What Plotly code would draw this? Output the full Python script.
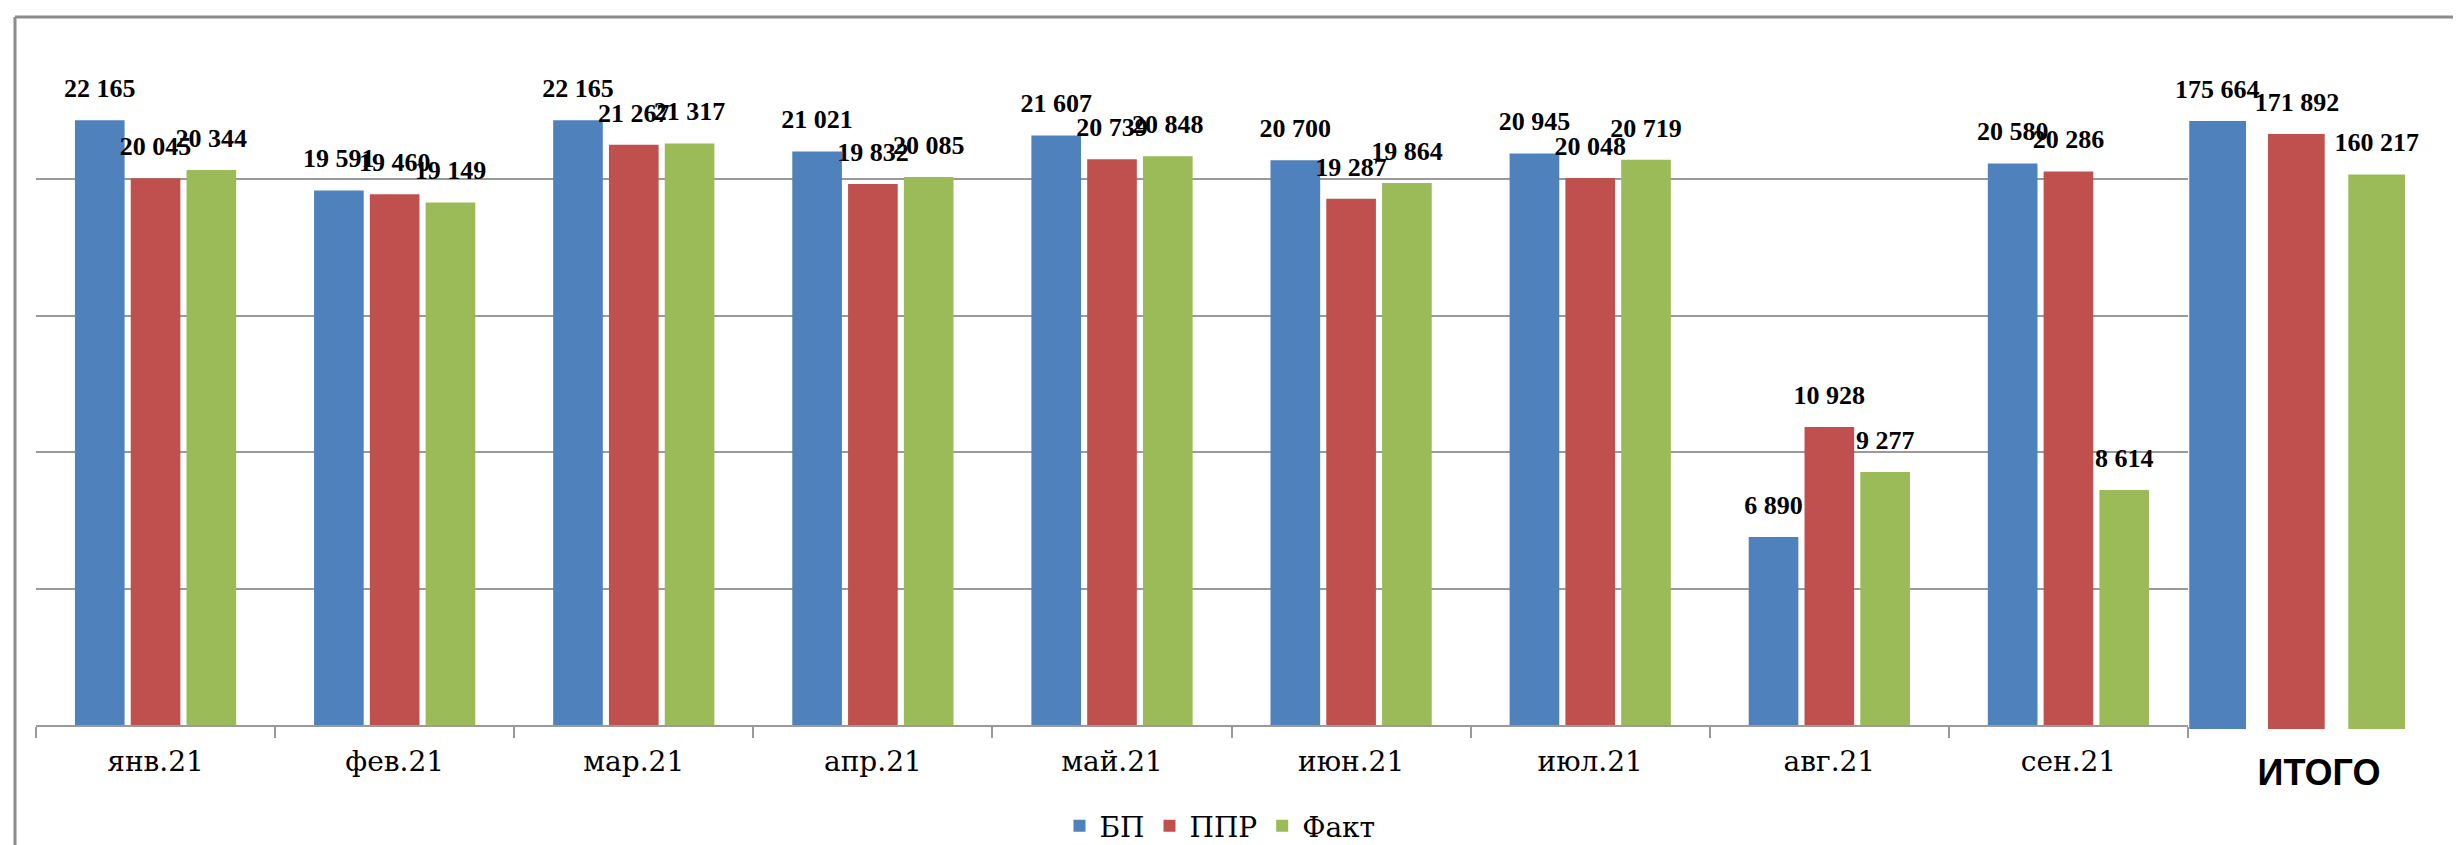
import plotly.graph_objects as go

months = ["янв.21", "фев.21", "мар.21", "апр.21", "май.21", "июн.21", "июл.21", "авг.21", "сен.21"]
bp = [22165, 19591, 22165, 21021, 21607, 20700, 20945, 6890, 20580]
ppr = [20045, 19460, 21267, 19832, 20739, 19287, 20048, 10928, 20286]
fact = [20344, 19149, 21317, 20085, 20848, 19864, 20719, 9277, 8614]

total_cat = ["ИТОГО"]
bp_total = [175664]
ppr_total = [171892]
fact_total = [160217]

series_names = ["БП", "ППР", "Факт"]
colors = ["#4F81BD", "#C0504D", "#9BBB59"]

W, H = 2461, 845

def px_x(p):
    return p / W

def px_y(p):
    return 1 - p / H

label_font = dict(family="Liberation Serif", size=26, color="black", weight="bold")

fig = go.Figure()
for i, (name, vals, col) in enumerate(zip(series_names, [bp, ppr, fact], colors)):
    fig.add_trace(go.Bar(
        x=months, y=vals, name=name, marker=dict(color=col, line=dict(width=0)),
        offsetgroup=str(i), xaxis="x", yaxis="y", hoverinfo="skip",
    ))

tot_offsets = [-0.315, -0.085, 0.15]
for i, (name, vals, col, off) in enumerate(zip(series_names, [bp_total, ppr_total, fact_total], colors, tot_offsets)):
    fig.add_trace(go.Bar(
        x=total_cat, y=vals, name=name, showlegend=False,
        marker=dict(color=col, line=dict(width=0)),
        width=0.166, offset=off, offsetgroup=str(i),
        xaxis="x2", yaxis="y2", hoverinfo="skip",
    ))

# value labels (grouped text points aligned with the bars)
for i, vals in enumerate([bp, ppr, fact]):
    fig.add_trace(go.Scatter(
        x=months, y=vals, mode="markers+text", offsetgroup=str(i),
        marker=dict(size=25, color="rgba(0,0,0,0)"),
        texttemplate="%{y:,}", textposition="top center", textfont=label_font,
        cliponaxis=False, showlegend=False, hoverinfo="skip", xaxis="x", yaxis="y",
    ))
for i, vals in enumerate([bp_total, ppr_total, fact_total]):
    fig.add_trace(go.Scatter(
        x=total_cat, y=vals, mode="markers+text", offsetgroup=str(i),
        marker=dict(size=25, color="rgba(0,0,0,0)"),
        texttemplate="%{y:,}", textposition="top center", textfont=label_font,
        cliponaxis=False, showlegend=False, hoverinfo="skip", xaxis="x2", yaxis="y2",
    ))

grid_col = "#9a9a9a"
fig.update_layout(
    width=W, height=H,
    margin=dict(l=0, r=0, t=0, b=0),
    paper_bgcolor="white", plot_bgcolor="rgba(0,0,0,0)",
    separators=", ",
    barmode="group", bargap=0.3, bargroupgap=0.11,
    scattermode="group", scattergap=0.3,
    showlegend=True,
    legend=dict(orientation="h", x=px_x(1212), y=px_y(818), xanchor="center", yanchor="middle",
                font=dict(family="DejaVu Serif", size=28, color="black"),
                traceorder="normal"),
    xaxis=dict(domain=[px_x(28), px_x(2180)], anchor="y", type="category",
               showline=True, linecolor=grid_col, linewidth=2,
               ticks="outside", tickson="boundaries", ticklen=11, tickcolor=grid_col, tickwidth=2,
               tickfont=dict(family="DejaVu Serif", size=28, color="black"),
               ticklabelstandoff=10, showgrid=False),
    yaxis=dict(domain=[px_y(717), px_y(35)], anchor="x", range=[0, 25000], dtick=5000,
               showgrid=True, gridcolor=grid_col, gridwidth=2, zeroline=False,
               showticklabels=False, ticks="", showline=False),
    xaxis2=dict(domain=[px_x(2118), px_x(2460)], anchor="y2", type="category",
                showline=False, ticks="", showgrid=False,
                tickfont=dict(family="Liberation Sans", size=36, color="black", weight="bold"),
                ticklabelshift=22, ticklabelstandoff=19),
    yaxis2=dict(domain=[px_y(721), px_y(35)], anchor="x2", range=[0, 198200],
                showgrid=False, zeroline=False, showticklabels=False, ticks="", showline=False),
    shapes=[
        dict(type="line", xref="paper", yref="paper", x0=px_x(7), x1=1.0, y0=px_y(9), y1=px_y(9),
             line=dict(color="#8c8c8c", width=3)),
        dict(type="line", xref="paper", yref="paper", x0=px_x(7), x1=px_x(7), y0=px_y(9), y1=0,
             line=dict(color="#8c8c8c", width=3)),
    ],
)

fig.write_html("out.html")
